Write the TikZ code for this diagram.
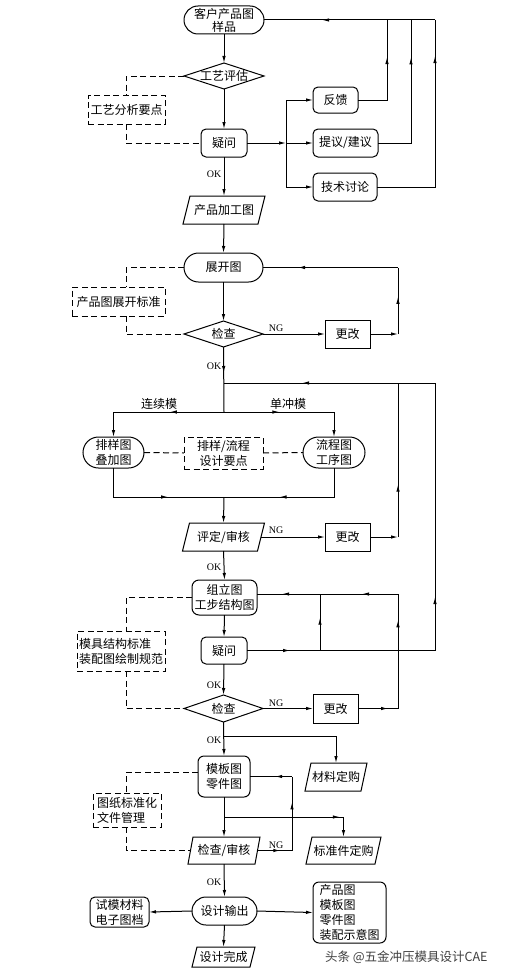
\documentclass[tikz,border=0pt]{standalone}
\usepackage{fontspec}
\setmainfont{Noto Sans CJK SC}
\newfontfamily\lat{Liberation Serif}
\usetikzlibrary{arrows.meta,decorations.markings,shapes.misc,calc}
\newcommand\mydiamond[1]{\draw[ln] (#1.west)--(#1.north)--(#1.east)--(#1.south)--cycle;}
\newcommand\mypara[2]{\draw[ln] ([xshift=-#2pt]#1.south west) -- ([xshift=#2pt]#1.north west) -- ([xshift=#2pt]#1.north east) -- ([xshift=-#2pt]#1.south east) -- cycle;}
\begin{document}
\begin{tikzpicture}[x=1pt,y=-1pt,
 every node/.style={inner sep=0pt,outer sep=0pt,font=\fontsize{12}{15}\selectfont,align=center},
 ln/.style={line width=1pt},
 arr/.style={ln,-{Latex[length=7pt,width=3.5pt]}},
 marr/.style={postaction={decorate,decoration={markings,mark=at position #1 with {\arrow{Latex[length=7pt,width=3.5pt]}}}}},
 dsh/.style={line width=1pt,dash pattern=on 6pt off 3.5pt},
 sz/.style n args={2}{minimum width=#1pt,minimum height=#2pt},
 stad/.style={draw,ln,shape=rounded rectangle},
 rbox/.style={draw,ln,rounded corners=5pt},
 sbox/.style={draw,ln},
 dbox/.style={draw,dsh},
 lab/.style={font=\lat\fontsize{10}{12}\selectfont},
]
\fill[white] (0,0) rectangle (512,974);
\useasboundingbox (0,0) rectangle (512,974);

% nodes
\node[stad,sz={80}{28},font=\fontsize{12}{13}\selectfont] (n1) at (224,20) {客户产品图\\样品};
\node[sz={80}{26}] (d1) at (224,76) {工艺评估}; \mydiamond{d1}
\node[dbox,sz={77}{29}] (k1) at (126.5,109.5) {工艺分析要点};
\node[rbox,sz={46}{28}] (q1) at (224,143) {疑问};
\node[rbox,sz={45}{26}] (f1) at (335.5,100) {反馈};
\node[rbox,sz={65}{28}] (f2) at (345.5,143) {提议/建议};
\node[rbox,sz={64}{28}] (f3) at (345,187) {技术讨论};
\node[sz={75}{28}] (p1) at (224,210) {产品加工图}; \mypara{p1}{3.5}
\node[stad,sz={79}{29}] (n2) at (223.5,267.5) {展开图};
\node[dbox,sz={93}{29}] (k2) at (118.5,301.5) {产品图展开标准};
\node[sz={79}{26}] (d2) at (223.5,334) {检查}; \mydiamond{d2}
\node[sbox,sz={45}{28}] (c1) at (347.5,334) {更改};
\node[stad,sz={61}{31}] (n3a) at (113.5,452.5) {排样图\\叠加图};
\node[stad,sz={62}{31}] (n3b) at (334,452.5) {流程图\\工序图};
\node[dbox,sz={79}{32}] (k3) at (223.5,453) {排样/流程\\设计要点};
\node[sz={75}{28}] (p2) at (223.5,537) {评定/审核}; \mypara{p2}{3.5}
\node[sbox,sz={45}{28}] (c2) at (347.5,537) {更改};
\node[rbox,sz={65}{35},rounded corners=7pt] (n4) at (224.5,597.5) {组立图\\工步结构图};
\node[rbox,sz={46}{27}] (q2) at (224,650.5) {疑问};
\node[dbox,sz={88}{40},align=left] (k4) at (121,651) {模具结构标准\\装配图绘制规范};
\node[sz={79}{27}] (d3) at (223.5,708.5) {检查}; \mydiamond{d3}
\node[sbox,sz={45}{29}] (c3) at (335.5,708.5) {更改};
\node[rbox,sz={52}{41},rounded corners=6pt] (n5) at (224,776.5) {模板图\\零件图};
\node[sz={56}{28}] (m1) at (336,777) {材料定购}; \mypara{m1}{3}
\node[sz={69}{27}] (m2) at (343.5,850.5) {标准件定购}; \mypara{m2}{3}
\node[sz={67}{27}] (p3) at (224,850.5) {检查/审核}; \mypara{p3}{2.5}
\node[dbox,sz={68}{34},align=left] (k5) at (127,810) {图纸标准化\\文件管理};
\node[stad,sz={65}{28}] (n6) at (224.5,911) {设计输出};
\node[rbox,sz={59}{30}] (b6) at (119.5,912) {试模材料\\电子图档};
\node[rbox,sz={73}{61},align=left,rounded corners=6pt] (b7) at (349.5,912.5) {产品图\\模板图\\零件图\\装配示意图};
\node[sz={58}{20}] (p4) at (223.5,957) {设计完成}; \mypara{p4}{2.5}

% labels
\node[lab] (ok1) at (214,174) {OK};
\node[lab] (ok2) at (214,366) {OK};
\node[lab] (ok3) at (214,567) {OK};
\node[lab] (ok4) at (214,685) {OK};
\node[lab] (ok5) at (214,740) {OK};
\node[lab] (ok6) at (214,882) {OK};
\node[lab] (ng1) at (276,328) {NG};
\node[lab] (ng2) at (276,530) {NG};
\node[lab] (ng3) at (276,703) {NG};
\node[lab] (ng4) at (276,845) {NG};
\node (lb1) at (159,404) {连续模};
\node (lb2) at (288,404) {单冲模};
\node[font=\fontsize{12.5}{14}\selectfont,text=black!75,anchor=west] (wm) at (325,957) {头条 @五金冲压模具设计CAE};

% dashed links
\coordinate (vx) at (126,0);
\draw[dsh] (d1.west) -| (k1.north -| vx);
\draw[dsh] (k1.south -| vx) |- (q1.west);
\draw[dsh] (n2.west) -| (k2.north -| vx);
\draw[dsh] (k2.south -| vx) |- (d2.west);
\draw[dsh] (n3a.east) -- (k3.west);
\draw[dsh] (k3.east) -- (n3b.west);
\draw[dsh] (n4.west) -| (k4.north -| vx);
\draw[dsh] (k4.south -| vx) |- (d3.west);
\draw[dsh] ([yshift=4.5pt]n5.west) -| (k5.north -| vx);
\draw[dsh] (k5.south -| vx) |- (p3.west);

% top part
\draw[arr] (n1.south) -- (d1.north);
\draw[arr] (d1.south) -- (q1.north);
\draw[arr] (q1.south) -- (p1.north);
\draw[arr] (p1.south) -- (n2.north);
\coordinate (j1) at (286,143);
\draw[arr] (q1.east) -- (j1);
\draw[ln] (f1.west -| j1) -- (f3.west -| j1);
\draw[arr] (f1.west -| j1) -- (f1.west);
\draw[arr] (j1) -- (f2.west);
\draw[arr] (f3.west -| j1) -- (f3.west);
\coordinate (r1) at (387,20);
\coordinate (r2) at (411,20);
\coordinate (r3) at (435,20);
\draw[ln,marr=0.66] (f1.east) -| (r1);
\draw[ln,marr=0.76] (f2.east) -| (r2);
\draw[ln,marr=0.84] (f3.east) -| (r3);
\draw[ln,marr=0.66] (r3) -- (n1.east);

% unfold loop
\draw[arr] (n2.south) -- (d2.north);
\draw[arr] (d2.east) -- (c1.west);
\coordinate (u1) at (398,334);
\draw[arr] (c1.east) -- (u1);
\draw[ln,marr=0.56] (u1) -- (u1 |- n2.east);
\draw[ln,marr=0.74] (u1 |- n2.east) -- (n2.east);

% branch
\coordinate (j2) at (224,412);
\draw[ln,marr=0.4] (d2.south) -- (j2);
\coordinate (h1) at (224,383);
\coordinate (h2) at (435,383);
\coordinate (h3) at (398,383);
\draw[ln,marr=0.63] (h2) -- (h1);
\draw[arr,marr=0.4] (j2) -| (n3a.north);
\draw[arr,marr=0.41] (j2) -| (n3b.north);
\coordinate (j3) at (224,497);
\draw[ln,marr=0.6] (n3a.south) |- (j3);
\draw[ln,marr=0.6] (n3b.south) |- (j3);
\draw[arr] (j3) -- (p2.north);
\draw[arr] (p2.east) -- (c2.west);
\draw[arr] (c2.east) -- (c2.east -| u1);
\draw[ln,marr=0.34] (c2.east -| u1) -- (h3);

% assembly
\draw[arr] (p2.south) -- (n4.north);
\draw[arr] (n4.south) -- (q2.north);
\draw[arr] (q2.south) -- (d3.north);
\draw[arr] (d3.east) -- (c3.west);
\coordinate (u3) at (398,708.5);
\draw[ln,marr=0.75] (c3.east) -- (u3);
\coordinate (u4) at (398,594);
\draw[ln,marr=0.77] (u3) -- (u4);
\coordinate (v1) at (320,594);
\coordinate (v2) at (320,650.5);
\draw[ln,marr=0.46] (u4) -- (v1);
\draw[ln,marr=0.6] (v1) -- (v1 -| n4.east);
\draw[ln,marr=0.58] (v2) -- (v1);
\draw[ln,marr=0.59] (q2.east) -- (v2);
\draw[ln] (v2) -- (v2 -| h2);
\draw[ln,marr=0.2] (v2 -| h2) -- (h2);

% templates
\draw[arr] (d3.south) -- (n5.north);
\coordinate (j4) at (224,736);
\draw[arr] (j4) -| (m1.north);
\coordinate (w1) at (292,776.5);
\draw[ln,marr=0.4] (w1) -- (n5.east);
\coordinate (w2) at (292,850.5);
\draw[ln,marr=0.65] (w2) -- (w1);
\draw[ln,marr=0.66] (p3.east) -- (w2);
\draw[arr] (n5.south) -- (p3.north);
\coordinate (j5) at (224,817);
\draw[arr,marr=0.83] (j5) -| (m2.north);
\draw[arr] (p3.south) -- (n6.north);
\draw[arr] (n6.west) -- (b6.east);
\draw[arr] (n6.east) -- (b7.west);
\draw[arr] (n6.south) -- (p4.north);
\end{tikzpicture}
\end{document}
